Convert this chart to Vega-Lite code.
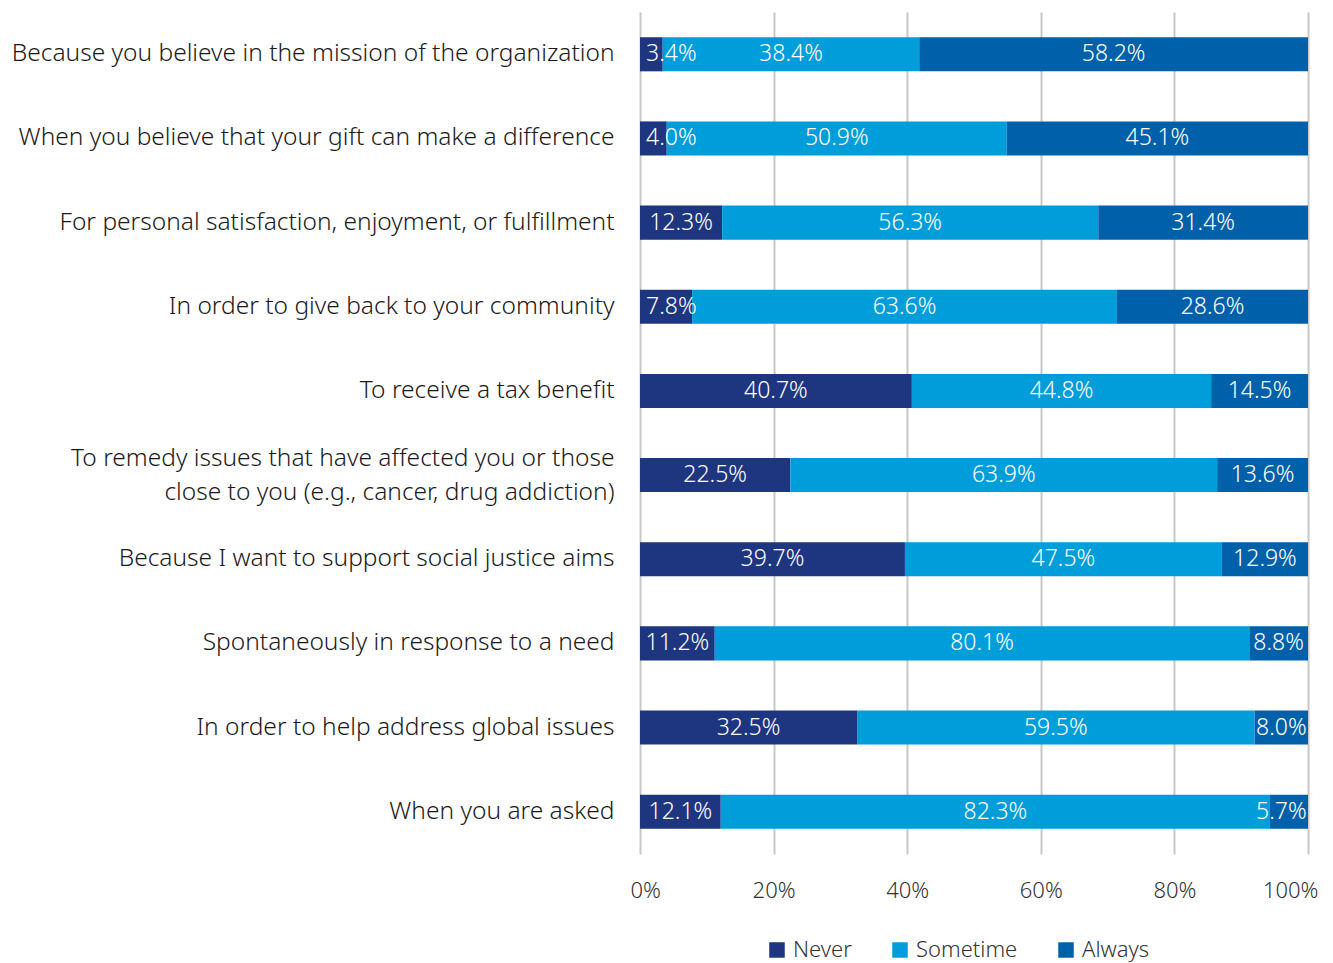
{
  "$schema": "https://vega.github.io/schema/vega-lite/v6.json",
  "width": 668,
  "height": 842,
  "autosize": {"type": "none"},
  "padding": {"left": 640, "top": 12, "right": 25, "bottom": 109},
  "background": "white",
  "config": {"view": {"stroke": null}, "font": "Noto Sans"},
  "data": {"values": [
    {"cat": "Because you believe in the mission of the organization", "q": 1, "resp": "Never", "o": 1, "pct": 3.4},
    {"cat": "Because you believe in the mission of the organization", "q": 1, "resp": "Sometime", "o": 2, "pct": 38.4},
    {"cat": "Because you believe in the mission of the organization", "q": 1, "resp": "Always", "o": 3, "pct": 58.2},
    {"cat": "When you believe that your gift can make a difference", "q": 2, "resp": "Never", "o": 1, "pct": 4.0},
    {"cat": "When you believe that your gift can make a difference", "q": 2, "resp": "Sometime", "o": 2, "pct": 50.9},
    {"cat": "When you believe that your gift can make a difference", "q": 2, "resp": "Always", "o": 3, "pct": 45.1},
    {"cat": "For personal satisfaction, enjoyment, or fulfillment", "q": 3, "resp": "Never", "o": 1, "pct": 12.3},
    {"cat": "For personal satisfaction, enjoyment, or fulfillment", "q": 3, "resp": "Sometime", "o": 2, "pct": 56.3},
    {"cat": "For personal satisfaction, enjoyment, or fulfillment", "q": 3, "resp": "Always", "o": 3, "pct": 31.4},
    {"cat": "In order to give back to your community", "q": 4, "resp": "Never", "o": 1, "pct": 7.8},
    {"cat": "In order to give back to your community", "q": 4, "resp": "Sometime", "o": 2, "pct": 63.6},
    {"cat": "In order to give back to your community", "q": 4, "resp": "Always", "o": 3, "pct": 28.6},
    {"cat": "To receive a tax benefit", "q": 5, "resp": "Never", "o": 1, "pct": 40.7},
    {"cat": "To receive a tax benefit", "q": 5, "resp": "Sometime", "o": 2, "pct": 44.8},
    {"cat": "To receive a tax benefit", "q": 5, "resp": "Always", "o": 3, "pct": 14.5},
    {"cat": "To remedy issues that have affected you or those|close to you (e.g., cancer, drug addiction)", "q": 6, "resp": "Never", "o": 1, "pct": 22.5},
    {"cat": "To remedy issues that have affected you or those|close to you (e.g., cancer, drug addiction)", "q": 6, "resp": "Sometime", "o": 2, "pct": 63.9},
    {"cat": "To remedy issues that have affected you or those|close to you (e.g., cancer, drug addiction)", "q": 6, "resp": "Always", "o": 3, "pct": 13.6},
    {"cat": "Because I want to support social justice aims", "q": 7, "resp": "Never", "o": 1, "pct": 39.7},
    {"cat": "Because I want to support social justice aims", "q": 7, "resp": "Sometime", "o": 2, "pct": 47.5},
    {"cat": "Because I want to support social justice aims", "q": 7, "resp": "Always", "o": 3, "pct": 12.9},
    {"cat": "Spontaneously in response to a need", "q": 8, "resp": "Never", "o": 1, "pct": 11.2},
    {"cat": "Spontaneously in response to a need", "q": 8, "resp": "Sometime", "o": 2, "pct": 80.1},
    {"cat": "Spontaneously in response to a need", "q": 8, "resp": "Always", "o": 3, "pct": 8.8},
    {"cat": "In order to help address global issues", "q": 9, "resp": "Never", "o": 1, "pct": 32.5},
    {"cat": "In order to help address global issues", "q": 9, "resp": "Sometime", "o": 2, "pct": 59.5},
    {"cat": "In order to help address global issues", "q": 9, "resp": "Always", "o": 3, "pct": 8.0},
    {"cat": "When you are asked", "q": 10, "resp": "Never", "o": 1, "pct": 12.1},
    {"cat": "When you are asked", "q": 10, "resp": "Sometime", "o": 2, "pct": 82.3},
    {"cat": "When you are asked", "q": 10, "resp": "Always", "o": 3, "pct": 5.7}
  ]},
  "transform": [
    {"stack": "pct", "groupby": ["cat"], "sort": [{"field": "o"}], "offset": "normalize", "as": ["x0", "x1"]},
    {"calculate": "clamp((datum.x0 + datum.x1) / 2, 0.047, 0.96)", "as": "xm"},
    {"calculate": "format(datum.pct, '.1f') + '%'", "as": "lbl"}
  ],
  "encoding": {
    "y": {
      "field": "cat", "type": "nominal",
      "sort": {"field": "q", "op": "min"},
      "scale": {"paddingInner": 0.595, "paddingOuter": 0.3},
      "axis": {
        "title": null, "domain": false, "ticks": false, "grid": false,
        "labelFontSize": 24.5, "labelFontWeight": 300, "labelColor": "#1a1a1a", "labelPadding": 26,
        "labelLimit": 700, "labelLineHeight": 34,
        "labelOffset": {"condition": {"test": "indexof(datum.value, '|') >= 0", "value": -16}, "value": 0},
        "labelExpr": "split(datum.value, '|')"
      }
    }
  },
  "layer": [
    {
      "mark": {"type": "bar"},
      "encoding": {
        "x": {
          "field": "x0", "type": "quantitative",
          "scale": {"domain": [0, 1], "nice": false},
          "axis": {
            "title": null, "format": ".0%", "values": [0, 0.2, 0.4, 0.6, 0.8, 1],
            "domain": false, "ticks": false, "labelOverlap": false,
            "grid": true, "gridColor": "#c8c8c8", "gridWidth": 2,
            "labelFontSize": 22, "labelFontWeight": 300, "labelColor": "#333333", "labelPadding": 26,
            "labelFlush": true, "labelFlushOffset": 10
          }
        },
        "x2": {"field": "x1"},
        "color": {
          "field": "resp", "type": "nominal",
          "sort": ["Never", "Sometime", "Always"],
          "scale": {"domain": ["Never", "Sometime", "Always"], "range": ["#1e3580", "#009ddb", "#0061aa"]},
          "legend": {
            "title": null, "orient": "none", "direction": "horizontal",
            "legendX": 126, "legendY": 927,
            "symbolType": "square", "symbolSize": 240, "symbolStrokeWidth": 0, "symbolOpacity": 1,
            "labelFontSize": 22, "labelFontWeight": 300, "labelColor": "#333333", "labelOffset": 5,
            "columnPadding": 37
          }
        }
      }
    },
    {
      "mark": {"type": "text", "color": "white", "fontSize": 23, "fontWeight": 300, "align": "center", "baseline": "middle"},
      "encoding": {
        "x": {"field": "xm", "type": "quantitative"},
        "text": {"field": "lbl", "type": "nominal"}
      }
    }
  ]
}
